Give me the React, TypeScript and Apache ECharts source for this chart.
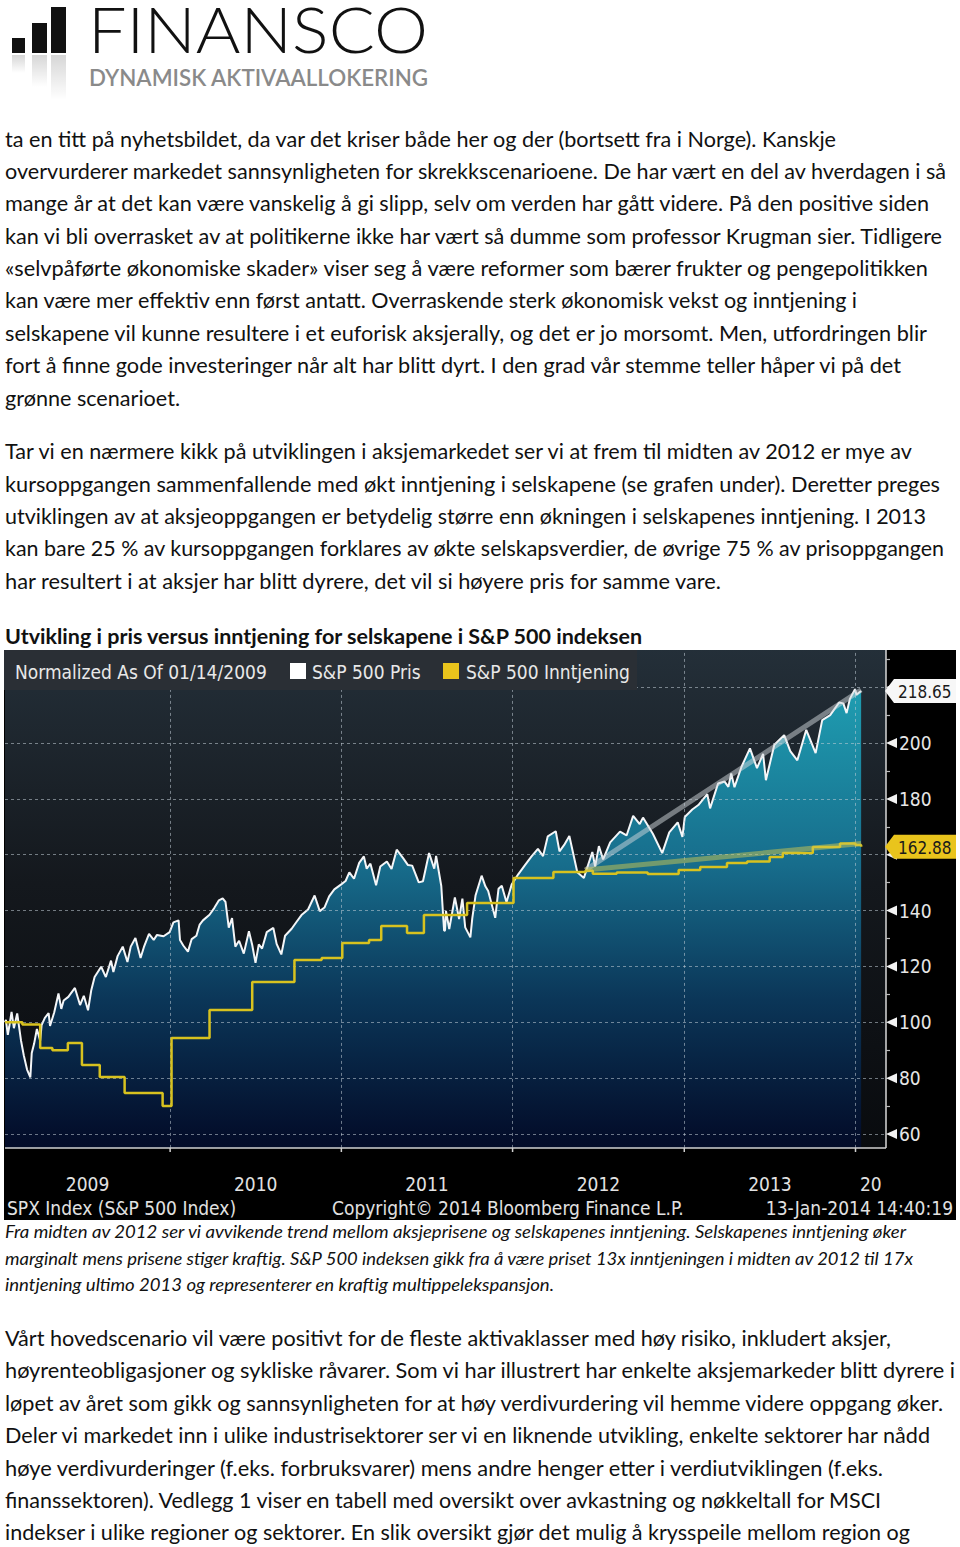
import React, { useEffect, useRef } from "react";
import * as echarts from "echarts";

// ---------------- DATA ----------------
const priceSeries: [string, number][] = [
  ["2009-01-14", 100], ["2009-01-16", 100.9], ["2009-01-20", 95.5], ["2009-01-23", 98.4], ["2009-01-28", 103.7],
  ["2009-02-02", 97.9], ["2009-02-09", 103.2], ["2009-02-17", 93.6], ["2009-02-23", 88.2], ["2009-03-02", 83.1],
  ["2009-03-09", 80.3], ["2009-03-12", 89], ["2009-03-17", 92.3], ["2009-03-23", 97.6], ["2009-03-30", 93.4],
  ["2009-04-02", 99], ["2009-04-09", 101.6], ["2009-04-17", 103.3], ["2009-04-20", 98.7], ["2009-04-29", 103.6],
  ["2009-05-08", 110.3], ["2009-05-14", 104.8], ["2009-05-19", 107.8], ["2009-05-29", 109.1], ["2009-06-12", 112.3],
  ["2009-06-23", 106.2], ["2009-07-01", 109.5], ["2009-07-10", 104.3], ["2009-07-17", 111.6], ["2009-07-24", 116.2],
  ["2009-08-07", 119.9], ["2009-08-17", 116.2], ["2009-08-28", 122.1], ["2009-09-02", 118], ["2009-09-11", 123.7],
  ["2009-09-22", 127.1], ["2009-10-02", 121.6], ["2009-10-09", 127.1], ["2009-10-19", 130.2], ["2009-10-30", 123],
  ["2009-11-06", 126.9], ["2009-11-17", 131.7], ["2009-11-27", 129.5], ["2009-12-04", 131.3], ["2009-12-18", 130.8],
  ["2009-12-31", 132.3], ["2010-01-08", 135.8], ["2010-01-19", 136.5], ["2010-01-22", 129.5], ["2010-01-29", 127.5],
  ["2010-02-08", 125.3], ["2010-02-16", 129.8], ["2010-02-26", 131], ["2010-03-05", 135], ["2010-03-12", 136.5],
  ["2010-03-26", 138.5], ["2010-04-05", 140.9], ["2010-04-15", 143.7], ["2010-04-23", 144.4], ["2010-04-29", 143.1],
  ["2010-05-06", 133.9], ["2010-05-13", 137.3], ["2010-05-20", 127.1], ["2010-05-28", 129.2], ["2010-06-07", 124.6],
  ["2010-06-18", 132.6], ["2010-06-25", 127.7], ["2010-07-02", 121.3], ["2010-07-09", 127.9], ["2010-07-16", 126.4],
  ["2010-07-26", 132.3], ["2010-08-09", 133.8], ["2010-08-16", 128.1], ["2010-08-26", 124.3], ["2010-09-03", 131],
  ["2010-09-17", 133.5], ["2010-09-28", 136.1], ["2010-10-08", 138.4], ["2010-10-22", 140.4], ["2010-11-05", 145.4],
  ["2010-11-16", 139.8], ["2010-11-26", 141.1], ["2010-12-06", 145.1], ["2010-12-17", 147.6], ["2010-12-31", 149.3],
  ["2011-01-10", 150.6], ["2011-01-18", 153.7], ["2011-01-28", 151.4], ["2011-02-08", 157.1], ["2011-02-18", 159.4],
  ["2011-02-24", 155], ["2011-03-04", 156.8], ["2011-03-16", 149.1], ["2011-03-25", 155.8], ["2011-04-08", 157.6],
  ["2011-04-18", 154.9], ["2011-04-29", 161.8], ["2011-05-13", 158.7], ["2011-05-23", 156.3], ["2011-06-01", 156.1],
  ["2011-06-15", 150.1], ["2011-06-24", 150.5], ["2011-07-07", 160.6], ["2011-07-18", 155], ["2011-07-22", 159.6],
  ["2011-08-02", 148.8], ["2011-08-08", 132.8], ["2011-08-10", 132.9], ["2011-08-12", 139.9], ["2011-08-19", 133.4],
  ["2011-08-31", 144.7], ["2011-09-09", 137], ["2011-09-16", 144.3], ["2011-09-22", 134], ["2011-10-03", 130.4],
  ["2011-10-07", 137.1], ["2011-10-14", 145.4], ["2011-10-27", 152.5], ["2011-11-04", 148.7], ["2011-11-10", 147],
  ["2011-11-25", 137.4], ["2011-12-02", 147.8], ["2011-12-09", 148.9], ["2011-12-19", 143], ["2011-12-30", 149.3],
  ["2012-01-13", 153], ["2012-01-27", 156.2], ["2012-02-10", 159.3], ["2012-02-24", 162.1], ["2012-03-06", 159.5],
  ["2012-03-16", 166.6], ["2012-04-02", 168.4], ["2012-04-10", 161.2], ["2012-04-20", 163.5], ["2012-05-01", 166.7],
  ["2012-05-18", 153.7], ["2012-06-01", 151.7], ["2012-06-19", 161], ["2012-06-25", 155.8], ["2012-07-03", 163.1],
  ["2012-07-12", 158.3], ["2012-07-27", 164.4], ["2012-08-17", 168.3], ["2012-08-31", 166.9], ["2012-09-14", 173.9],
  ["2012-09-28", 171], ["2012-10-05", 173.3], ["2012-10-26", 167.5], ["2012-11-15", 160.6], ["2012-11-30", 168],
  ["2012-12-18", 171.6], ["2012-12-28", 166.4], ["2013-01-02", 173.5], ["2013-01-18", 176.2], ["2013-01-31", 177.8],
  ["2013-02-19", 181.7], ["2013-02-25", 176.6], ["2013-03-14", 185.5], ["2013-03-28", 186.2], ["2013-04-05", 184.3],
  ["2013-04-11", 189.1], ["2013-04-18", 184.2], ["2013-05-03", 191.5], ["2013-05-21", 198.1], ["2013-06-05", 191],
  ["2013-06-18", 196.1], ["2013-06-24", 186.7], ["2013-07-12", 199.4], ["2013-08-02", 202.8], ["2013-08-15", 197.1],
  ["2013-08-30", 193.8], ["2013-09-18", 204.7], ["2013-10-08", 196.4], ["2013-10-22", 208.2], ["2013-11-08", 210],
  ["2013-11-27", 214.5], ["2013-12-06", 214.2], ["2013-12-13", 210.7], ["2013-12-20", 215.8], ["2013-12-31", 219.3],
  ["2014-01-03", 217.3], ["2014-01-08", 218], ["2014-01-13", 218.65],
];

const earningsSeries: [string, number][] = [
  ["2009-01-14", 100], ["2009-02-20", 99.2], ["2009-03-30", 90.8], ["2009-04-25", 90], ["2009-05-28", 92.6],
  ["2009-06-27", 84.7], ["2009-08-04", 80.4], ["2009-09-26", 74.7], ["2009-12-16", 70], ["2010-01-04", 94.4],
  ["2010-03-26", 104.4], ["2010-06-25", 114.4], ["2010-09-23", 122.3], ["2010-11-20", 123], ["2011-01-03", 128.4],
  ["2011-03-01", 129.5], ["2011-03-27", 134.5], ["2011-05-21", 132], ["2011-06-26", 138.4], ["2011-09-26", 142.7],
  ["2012-01-03", 151.7], ["2012-03-28", 153.8], ["2012-06-04", 154.3], ["2012-06-20", 153.2], ["2012-08-10", 153.6],
  ["2012-10-15", 153.1], ["2012-12-20", 154.5], ["2013-02-04", 155.6], ["2013-04-02", 157], ["2013-05-15", 157.6],
  ["2013-07-02", 159.2], ["2013-07-30", 160.6], ["2013-10-02", 162.8], ["2013-11-29", 164], ["2014-01-01", 163.5],
  ["2014-01-13", 162.88],
];

const priceTrend: [string, number][] = [["2012-06-04", 154.5], ["2014-01-13", 219]];
const earningsTrend: [string, number][] = [["2012-06-04", 154.5], ["2014-01-13", 164]];

const xMin = "2009-01-14";
const xMax = "2014-03-07";
const yearStarts = ["2010-01-01", "2011-01-01", "2012-01-01", "2013-01-01", "2014-01-01"];
const yearLabels = ["2009", "2010", "2011", "2012", "2013", "20"];
const yGridValues = [60, 80, 100, 120, 140, 160, 180, 200, 220];
const yHiddenLabels = [40, 160, 220, 240];
const yVisibleMin = 55;

const legendTitle = "Normalized As Of 01/14/2009";
const legendNames = ["S&P 500 Pris", "S&P 500 Inntjening"];
const footerLeft = "SPX Index (S&P 500 Index)";
const footerMid = "Copyright\u00A9 2014 Bloomberg Finance L.P.";
const footerRight = "13-Jan-2014 14:40:19";

// ---------------- DOCUMENT TEXT ----------------
const para1 = [
  "ta en titt på nyhetsbildet, da var det kriser både her og der (bortsett fra i Norge). Kanskje",
  "overvurderer markedet sannsynligheten for skrekkscenarioene. De har vært en del av hverdagen i så",
  "mange år at det kan være vanskelig å gi slipp, selv om verden har gått videre. På den positive siden",
  "kan vi bli overrasket av at politikerne ikke har vært så dumme som professor Krugman sier. Tidligere",
  "«selvpåførte økonomiske skader» viser seg å være reformer som bærer frukter og pengepolitikken",
  "kan være mer effektiv enn først antatt. Overraskende sterk økonomisk vekst og inntjening i",
  "selskapene vil kunne resultere i et euforisk aksjerally, og det er jo morsomt. Men, utfordringen blir",
  "fort å finne gode investeringer når alt har blitt dyrt. I den grad vår stemme teller håper vi på det",
  "grønne scenarioet.",
];
const para1Widths = [831, 941, 924, 937, 923, 852, 922, 896, 175];
const para1Base = [147, 179, 211, 244, 276, 308, 341, 373, 406];

const para2 = [
  "Tar vi en nærmere kikk på utviklingen i aksjemarkedet ser vi at frem til midten av 2012 er mye av",
  "kursoppgangen sammenfallende med økt inntjening i selskapene (se grafen under). Deretter preges",
  "utviklingen av at aksjeoppgangen er betydelig større enn økningen i selskapenes inntjening. I 2013",
  "kan bare 25 % av kursoppgangen forklares av økte selskapsverdier, de øvrige 75 % av prisoppgangen",
  "har resultert i at aksjer har blitt dyrere, det vil si høyere pris for samme vare.",
];
const para2Widths = [907, 935, 921, 939, 716];
const para2Base = [459, 492, 524, 556, 589];

const heading = "Utvikling i pris versus inntjening for selskapene i S&P 500 indeksen";

const caption = [
  "Fra midten av 2012 ser vi avvikende trend mellom aksjeprisene og selskapenes inntjening. Selskapenes inntjening øker",
  "marginalt mens prisene stiger kraftig. S&P 500 indeksen gikk fra å være priset 13x inntjeningen i midten av 2012 til 17x",
  "inntjening ultimo 2013 og representerer en kraftig multippelekspansjon.",
];
const captionWidths = [901, 908, 549];
const captionBase = [1238, 1265, 1291];

const para3 = [
  "Vårt hovedscenario vil være positivt for de fleste aktivaklasser med høy risiko, inkludert aksjer,",
  "høyrenteobligasjoner og sykliske råvarer. Som vi har illustrert har enkelte aksjemarkeder blitt dyrere i",
  "løpet av året som gikk og sannsynligheten for at høy verdivurdering vil hemme videre oppgang øker.",
  "Deler vi markedet inn i ulike industrisektorer ser vi en liknende utvikling, enkelte sektorer har nådd",
  "høye verdivurderinger (f.eks. forbruksvarer) mens andre henger etter i verdiutviklingen (f.eks.",
  "finanssektoren). Vedlegg 1 viser en tabell med oversikt over avkastning og nøkkeltall for MSCI",
  "indekser i ulike regioner og sektorer. En slik oversikt gjør det mulig å krysspeile mellom region og",
];
const para3Widths = [886, 950, 938, 925, 878, 876, 905];
const para3Base = [1346, 1378, 1411, 1443, 1476, 1508, 1540];

// ---------------- STYLE ----------------
const CF = "'DejaVu Sans Condensed', 'DejaVu Sans', sans-serif";
const DOCF = "Lato, 'Open Sans', sans-serif";

const ts = (d: string) => echarts.time.parse(d).getTime();

function Lines({ lines, widths, bases, size, italic, bold }: any) {
  return (
    <>
      {lines.map((t: string, i: number) => (
        <text
          key={i}
          x={5}
          y={bases[i]}
          textLength={widths[i]}
          lengthAdjust="spacingAndGlyphs"
          fontSize={size}
          fontStyle={italic ? "italic" : "normal"}
          fontWeight={bold ? 700 : 400}
          fill="#111"
          fontFamily={DOCF}
        >
          {t}
        </text>
      ))}
    </>
  );
}

export default function App() {
  const ref = useRef<HTMLDivElement>(null);

  useEffect(() => {
    if (!ref.current) return;
    const chart = echarts.init(ref.current, undefined, { renderer: "svg" });
    const W = 952;
    const H = 570;

    chart.setOption({
      animation: false,
      backgroundColor: "#000",
      grid: {
        left: 1,
        right: 70,
        top: -18.7,
        bottom: 30.1,
        show: true,
        borderWidth: 0,
        containLabel: false,
        outerBoundsMode: "none",
        backgroundColor: {
          type: "linear", x: 0, y: 0, x2: 0, y2: 1,
          colorStops: [
            { offset: 0, color: "#25313b" },
            { offset: 0.45, color: "#14181d" },
            { offset: 1, color: "#07090c" },
          ],
        },
      },
      xAxis: {
        type: "time",
        min: ts(xMin),
        max: ts(xMax),
        axisLine: { show: false },
        axisTick: { show: false },
        axisLabel: { show: false },
        splitLine: { show: false },
      },
      yAxis: {
        type: "value",
        position: "right",
        min: 40,
        max: 240,
        interval: 20,
        axisLine: { show: true, lineStyle: { color: "#d8d8d8", width: 1.5 } },
        axisTick: { show: false },
        minorTick: { show: true, splitNumber: 2, length: 4, lineStyle: { color: "#bbbbbb", width: 1.2 } },
        minorSplitLine: { show: false },
        splitLine: { show: false },
        axisLabel: {
          margin: 13,
          color: "#e6e6e6",
          fontSize: 19,
          fontFamily: CF,
          formatter: (v: number) => (yHiddenLabels.includes(v) ? "" : String(v)),
        },
      },
      series: [
        {
          type: "line",
          name: legendNames[0],
          data: priceSeries.map(([d, v]) => [ts(d), v]),
          showSymbol: false,
          z: 3,
          lineStyle: { color: "#f4f6f8", width: 2 },
          areaStyle: {
            color: {
              type: "linear", x: 0, y: 0, x2: 0, y2: 1,
              colorStops: [
                { offset: 0, color: "#1f9db1" },
                { offset: 0.35, color: "#176d8c" },
                { offset: 0.62, color: "#0b3658" },
                { offset: 0.9, color: "#030d2a" },
                { offset: 1, color: "#020822" },
              ],
            },
            opacity: 1,
          },
          markLine: {
            silent: true,
            symbol: ["none", "none"],
            label: { show: false },
            lineStyle: { type: [3, 3], color: "rgba(195,205,215,0.55)", width: 1 },
            data: [
              ...yearStarts.map((d) => ({ xAxis: ts(d) })),
              ...yGridValues.map((v) => ({ yAxis: v })),
            ],
          },
        },
        {
          type: "line",
          name: "trend-pris",
          data: priceTrend.map(([d, v]) => [ts(d), v]),
          showSymbol: false,
          z: 4,
          lineStyle: { color: "rgba(210,215,220,0.5)", width: 5 },
        },
        {
          type: "line",
          name: legendNames[1],
          data: earningsSeries.map(([d, v]) => [ts(d), v]),
          showSymbol: false,
          step: "end",
          z: 5,
          lineStyle: { color: "#d8c21f", width: 2.5 },
        },
        {
          type: "line",
          name: "trend-inntjening",
          data: earningsTrend.map(([d, v]) => [ts(d), v]),
          showSymbol: false,
          z: 6,
          lineStyle: { color: "rgba(205,200,80,0.5)", width: 5 },
        },
      ],
    });

    const xp = (d: string) => chart.convertToPixel({ xAxisIndex: 0 }, ts(d)) as number;
    const yp = (v: number) => chart.convertToPixel({ yAxisIndex: 0 }, v) as number;
    const gx = xp(xMax);
    const gl = xp(xMin);
    const bottomY = yp(yVisibleMin);
    const bounds = [xMin, ...yearStarts, xMax];

    const g: any[] = [];
    g.push({ type: "rect", z: 50, shape: { x: 0, y: bottomY, width: W, height: H - bottomY }, style: { fill: "#000" } });
    g.push({ type: "line", z: 51, shape: { x1: gl, y1: bottomY, x2: gx, y2: bottomY }, style: { stroke: "#d0d0d0", lineWidth: 1.5 } });
    yearStarts.forEach((d) => {
      const x = xp(d);
      g.push({ type: "line", z: 51, shape: { x1: x, y1: bottomY, x2: x, y2: bottomY + 4 }, style: { stroke: "#d0d0d0", lineWidth: 1.5 } });
    });
    yearLabels.forEach((lab, i) => {
      const x = (xp(bounds[i]) + xp(bounds[i + 1])) / 2;
      g.push({ type: "text", z: 52, x, y: 534, style: { text: lab, fill: "#e2e2e2", font: `19px ${CF}`, align: "center", verticalAlign: "middle" } });
    });
    g.push({ type: "text", z: 52, x: 3, y: 558, style: { text: footerLeft, fill: "#e2e2e2", font: `19px ${CF}`, align: "left", verticalAlign: "middle" } });
    g.push({ type: "text", z: 52, x: 328, y: 558, style: { text: footerMid, fill: "#e2e2e2", font: `19px ${CF}`, align: "left", verticalAlign: "middle" } });
    g.push({ type: "text", z: 52, x: W - 3, y: 558, style: { text: footerRight, fill: "#e2e2e2", font: `19px ${CF}`, align: "right", verticalAlign: "middle" } });

    // tick triangles
    yGridValues.forEach((v) => {
      const y = yp(v);
      g.push({ type: "polygon", z: 40, shape: { points: [[gx, y], [gx + 11, y - 5], [gx + 11, y + 5]] }, style: { fill: "#f2f2f2" } });
    });

    // last value tags
    const tag = (v: number, fill: string, txt: string) => {
      const y = yp(v);
      g.push({ type: "polygon", z: 60, shape: { points: [[gx - 1, y], [gx + 8, y - 12], [W, y - 12], [W, y + 12], [gx + 8, y + 12]] }, style: { fill } });
      g.push({ type: "text", z: 61, x: gx + 12, y: y + 1, style: { text: txt, fill: "#1a1a1a", font: `17px ${CF}`, align: "left", verticalAlign: "middle" } });
    };
    const lastP = priceSeries[priceSeries.length - 1][1];
    const lastE = earningsSeries[earningsSeries.length - 1][1];
    tag(lastP, "#f7f7f7", lastP.toFixed(2));
    tag(lastE, "#e9c41c", lastE.toFixed(2));

    // legend box
    g.push({ type: "rect", z: 70, shape: { x: 0, y: 0, width: 633, height: 40 }, style: { fill: "#2a2f35" } });
    g.push({ type: "text", z: 71, x: 11, y: 22, style: { text: legendTitle, fill: "#e8e8e8", font: `19px ${CF}`, align: "left", verticalAlign: "middle" } });
    g.push({ type: "rect", z: 71, shape: { x: 286, y: 13, width: 16, height: 16 }, style: { fill: "#ffffff" } });
    g.push({ type: "text", z: 71, x: 308, y: 22, style: { text: legendNames[0], fill: "#e8e8e8", font: `19px ${CF}`, align: "left", verticalAlign: "middle" } });
    g.push({ type: "rect", z: 71, shape: { x: 439, y: 13, width: 16, height: 16 }, style: { fill: "#e9c41c" } });
    g.push({ type: "text", z: 71, x: 462, y: 22, style: { text: legendNames[1], fill: "#e8e8e8", font: `19px ${CF}`, align: "left", verticalAlign: "middle" } });

    chart.setOption({ graphic: g });

    return () => chart.dispose();
  }, []);

  return (
    <div style={{ position: "absolute", left: 0, top: 0, width: 960, height: 1547, background: "#fff", overflow: "hidden" }}>
      <svg width={960} height={1547} style={{ position: "absolute", left: 0, top: 0 }}>
        <defs>
          <linearGradient id="refl" x1="0" y1="0" x2="0" y2="1">
            <stop offset="0" stopColor="#000" stopOpacity="0.16" />
            <stop offset="1" stopColor="#000" stopOpacity="0" />
          </linearGradient>
        </defs>
        {/* logo */}
        <rect x={12} y={38} width={13} height={15} fill="#111" />
        <rect x={32} y={23} width={15} height={30} fill="#111" />
        <rect x={51} y={7} width={15} height={46} fill="#111" />
        <rect x={12} y={55} width={13} height={18} fill="url(#refl)" />
        <rect x={32} y={55} width={15} height={32} fill="url(#refl)" />
        <rect x={51} y={55} width={15} height={45} fill="url(#refl)" />
        <text x={88} y={53} textLength={340} lengthAdjust="spacingAndGlyphs" fontSize={64} fontWeight={300} fill="#111" fontFamily={DOCF}>
          FINANSCO
        </text>
        <text x={89} y={86} textLength={339} lengthAdjust="spacingAndGlyphs" fontSize={23.5} fontWeight={600} fill="#8a8a8a" fontFamily={DOCF}>
          DYNAMISK AKTIVAALLOKERING
        </text>
        <Lines lines={para1} widths={para1Widths} bases={para1Base} size={21} />
        <Lines lines={para2} widths={para2Widths} bases={para2Base} size={21} />
        <Lines lines={[heading]} widths={[637]} bases={[644]} size={21} bold />
        <Lines lines={caption} widths={captionWidths} bases={captionBase} size={16.5} italic />
        <Lines lines={para3} widths={para3Widths} bases={para3Base} size={21} />
      </svg>
      <div ref={ref} style={{ position: "absolute", left: 4, top: 650, width: 952, height: 570 }} />
    </div>
  );
}
